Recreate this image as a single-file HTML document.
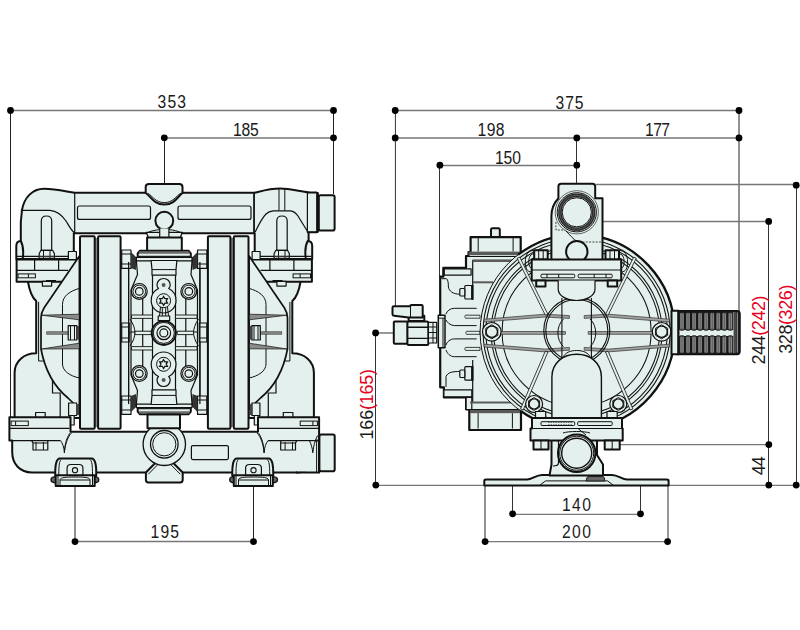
<!DOCTYPE html>
<html><head><meta charset="utf-8"><style>
html,body{margin:0;padding:0;background:#fff;width:800px;height:630px;overflow:hidden}
svg{display:block}
text{font-family:"Liberation Sans",sans-serif;font-size:18px;fill:#1a1a1a}
.r{fill:#e50020}
.o{fill:#e4f0ed;stroke:#111;stroke-width:2;stroke-linejoin:round}
.f{fill:#e4f0ed;stroke:#111;stroke-width:1.2;stroke-linejoin:round}
.l{fill:none;stroke:#111;stroke-width:1.2}
.t{fill:none;stroke:#111;stroke-width:1}
.d{fill:none;stroke:#777;stroke-width:1.3}
.dv{fill:none;stroke:#222;stroke-width:1}
.k{fill:#000}
</style></head><body>
<svg width="800" height="630" viewBox="0 0 800 630">
<!-- ================= DIMENSIONS ================= -->
<g id="dims">
<!-- left view -->
<path class="dv" d="M10.5,110.5V418 M333.5,110.5V194 M164.5,138V184 M75,486V541.5 M253.5,486V541.5" style="stroke:#222"/>
<path class="d" d="M10.5,110.5H333.5 M75,541.5H253.5"/>
<path class="d" d="M164,138H333.5" style="stroke-width:1.7"/>
<g class="k">
<circle cx="10.5" cy="110.5" r="3.4"/><circle cx="333.5" cy="110.5" r="3.4"/>
<circle cx="164.3" cy="137.8" r="3.4"/><circle cx="333.5" cy="137.8" r="3.4"/>
<circle cx="75" cy="541.6" r="3.4"/><circle cx="253.5" cy="541.6" r="3.4"/>
</g>
<!-- right view -->
<path class="dv" d="M395.4,110.5V306 M576.5,138V184 M439.5,165V277 M768.5,221.5V485 M796.5,185V485 M375.5,333V485 M512.5,486V514 M640.5,486V514 M668,486V541.5" style="stroke:#333"/>
<path class="dv" d="M739,110.5V311 M485,486V541.5" style="stroke:#777;stroke-width:1.6"/>
<path class="d" d="M395,110.5H739 M440,165.5H577 M596,184.5H796.5 M603,221.5H768.5 M612,444.7H768.5 M376,485.4H796.5 M512.5,514.3H640.5 M485,541.7H668"/>
<path class="d" d="M395,138H739 M376,333H394" style="stroke-width:1.7"/>
<g class="k">
<circle cx="395.2" cy="110.5" r="3.4"/><circle cx="739" cy="110.5" r="3.4"/>
<circle cx="395.2" cy="137.9" r="3.4"/><circle cx="576.8" cy="137.9" r="3.4"/><circle cx="739" cy="137.9" r="3.4"/>
<circle cx="439.9" cy="165.2" r="3.4"/><circle cx="576.8" cy="165.2" r="3.4"/>
<circle cx="796.2" cy="185.2" r="3.4"/><circle cx="768.7" cy="221.4" r="3.4"/>
<circle cx="768.8" cy="444.6" r="3.4"/><circle cx="768.8" cy="485.1" r="3.4"/><circle cx="796.2" cy="485.1" r="3.4"/>
<circle cx="375.6" cy="332.9" r="3.4"/><circle cx="375.8" cy="485.1" r="3.4"/>
<circle cx="512.6" cy="513.8" r="3.4"/><circle cx="640.5" cy="513.8" r="3.4"/>
<circle cx="485.1" cy="541.6" r="3.4"/><circle cx="667.6" cy="541.6" r="3.4"/>
</g>
</g>
<g id="texts">
<text transform="translate(157.50,107.80) scale(0.87,1)" textLength="32.74" lengthAdjust="spacing">353</text>
<text transform="translate(233.00,135.90) scale(0.87,1)" textLength="29.68" lengthAdjust="spacing">185</text>
<text transform="translate(150.50,537.80) scale(0.87,1)" textLength="32.80" lengthAdjust="spacing">195</text>
<text transform="translate(555.50,108.80) scale(0.87,1)" textLength="32.22" lengthAdjust="spacing">375</text>
<text transform="translate(477.60,135.90) scale(0.87,1)" textLength="30.93" lengthAdjust="spacing">198</text>
<text transform="translate(645.00,135.80) scale(0.87,1)" textLength="28.74" lengthAdjust="spacing">177</text>
<text transform="translate(495.00,163.80) scale(0.87,1)" textLength="29.84" lengthAdjust="spacing">150</text>
<text transform="translate(562.00,510.50) scale(0.87,1)" textLength="33.32" lengthAdjust="spacing">140</text>
<text transform="translate(562.00,538.30) scale(0.87,1)" textLength="33.29" lengthAdjust="spacing">200</text>
<text transform="translate(372.90,439.40) rotate(-90)" textLength="70.4" lengthAdjust="spacing">166<tspan class="r">(165)</tspan></text>
<text transform="translate(765.10,364.60) rotate(-90)" textLength="69.2" lengthAdjust="spacing">244<tspan class="r">(242)</tspan></text>
<text transform="translate(792.10,353.80) rotate(-90)" textLength="69.2" lengthAdjust="spacing">328<tspan class="r">(326)</tspan></text>
<text transform="translate(765.20,475.20) rotate(-90)" textLength="19.0" lengthAdjust="spacing">44</text>
</g>
<!-- ================= FRONT VIEW ================= -->
<g id="front">
<g id="FL1">
<!-- lower elbow + chamber body -->
<path class="o" d="M80,281 H27.8 C29.5,291 32.5,298 36.2,301 V353.3 C24,353.3 14.6,361 14.6,373 V418 H80 Z"/>
</g>
<use href="#FL1" transform="translate(328.5,0) scale(-1,1)"/>
<!-- left upper elbow + top manifold left half -->
<path class="o" d="M44.2,188.7 C56,188.7 66,191.5 74.7,192.8 H254.3 C262,191 270,188.6 280,188.6 C290,188.6 300,191.5 308.6,192.4 V259 H254.7 V233.2 H73.8 V259 H20.8 V222 L22,210 C24,198 32,188.7 44.2,188.7 Z"/>
<path class="l" d="M20.8,210.3 H50 C58,211 62,215 66,221 C69,226 71,230 74.5,233"/>
<!-- right upper elbow + top manifold right half -->

<path class="l" d="M255.2,232 C258,226 262,218 266,214 C268,212 270,211 273,210.8 H290.5 C293,211 296,213 298,216 C301,221 304,226 307.6,231.4"/>
<path class="t" d="M279,189 V210.5 M284.8,189 V210.5"/>
<path class="l" d="M254.3,192.4 V233"/>
<rect x="120" y="262" width="88.5" height="142" fill="#e4f0ed"/>
<g id="FL">
<path class="o" d="M20.8,241 C18,241 16.3,242.5 16.3,246 V259 H22.7 C23.5,253 23,245 20.8,241 Z"/>
<!-- flange -->
<path class="l" d="M17,256.4 H72"/>
<path class="o" d="M16.6,259.4 H76.5 V281.7 H16.6 Z"/>
<path class="l" d="M16.6,270.4H68 M34.6,259.4V270.4 M58.6,259.4V270.4"/>
<rect class="t" x="18" y="273.9" width="17.4" height="3.9"/>
<path class="t" d="M28.4,273.9V277.8 M46,280.5 H56"/>
<rect class="f" x="42.4" y="281.3" width="9.2" height="4.8"/>
<path class="l" d="M74.7,192.8 V233.2"/>
<!-- slot -->
<rect class="l" x="77.5" y="206" width="73" height="13.4" rx="2"/>
<!-- stud + nut -->
<path class="f" d="M41.3,250.3 V221 C41.3,217.5 43.5,216 46.5,216 C49.5,216 51.7,217.5 51.7,221 V250.3 Z"/>
<path class="f" d="M39.2,258.6 V253.5 L41,250.3 H52.6 L54.4,253.5 V258.6 Z"/>
<path class="t" d="M43.5,251V258.6 M50,251V258.6"/>
<path d="M39.2,256.5 H54.4" stroke="#333" stroke-width="1.6"/>
<!-- dome -->
<path class="f" d="M79.4,256 L44,308 Q41,313 41,318 V349 C44,365 52,385 68,398 L79.4,409 Z" style="stroke-width:1.7"/>
<path class="t" d="M79.4,288.4 C70,291 62.5,296 62.5,304.4 V364 C62.5,371 70,376 79.4,378"/>
<path d="M41.5,315.2 L79.4,314.2 V319.8 Z" fill="#8a8a8a" stroke="#222" stroke-width="0.8" stroke-linejoin="round"/>
<path d="M41.5,349 L79.4,343.2 V348.8 Z" fill="#8a8a8a" stroke="#222" stroke-width="0.8" stroke-linejoin="round"/>
<rect x="46.7" y="331.8" width="22" height="2.4" fill="#8a8a8a" stroke="#333" stroke-width="0.6"/>
<rect class="f" x="68.2" y="325.6" width="8.5" height="14.4"/>
<path class="t" d="M70.5,325.6 V340 M74.5,325.6 V340"/>
<rect x="76.2" y="326" width="3" height="13.6" fill="#444"/>
<path class="t" d="M38.6,302 V361 H43.6"/>
<path class="l" d="M52.5,380.5 V393 H60.2 V417"/>
<rect class="f" x="35.6" y="412.5" width="9.6" height="5.2"/>
<!-- bolt heads left of ring -->
<rect class="f" x="68.4" y="251.5" width="8" height="8"/>
<rect class="f" x="68.6" y="403" width="8" height="12.5"/>
<rect x="76" y="404" width="3" height="11" fill="#444"/>
<rect class="f" x="69.6" y="415.5" width="4.6" height="9.5"/>
<!-- diaphragm clamp rings -->
<rect x="94" y="238" width="5" height="189" fill="#888"/>
<rect class="o" x="80" y="236.3" width="14.7" height="192.5" rx="1"/>
<rect class="o" x="98.1" y="236.3" width="22.5" height="192.5" rx="1"/>
<!-- strip & nuts right of rings -->
<path class="l" d="M128.6,250 V414" />
<rect class="f" x="121.7" y="250" width="9.3" height="18.4"/>
<rect class="f" x="121.7" y="323" width="7.5" height="19"/>
<rect class="f" x="121.7" y="396" width="9.3" height="18.4"/>
<path class="t" d="M121.7,254H131 M121.7,264H131 M121.7,400H131 M121.7,410H131 M121.7,327H129 M121.7,338H129"/>
<path d="M131,252 L137,258 L136,270 L131,268 Z M131,412 L137,406 L136,394 L131,396 Z" fill="#333"/>
<!-- bottom manifold left half -->
<path class="o" d="M9.4,417.2 H70.5 V431.7 H164.3 V472.5 H32 C20,472.5 12.2,464 12.2,452 V440.6 H9.4 Z"/>
<path class="l" d="M9.4,428.3 H69.4 M12.2,440.6 H60.5"/>
<rect class="t" x="11.1" y="421.1" width="17.2" height="4.5"/>
<path class="t" d="M15.6,421.1 V425.6"/>
<path class="l" d="M60.5,440.6 C62.5,443 64,447 64.4,452.8 C65,445 67.5,437 71.7,432.6 M64.4,452.8 C64.6,446 66,439 69.8,433.2" style="stroke-width:1"/>
<path class="f" d="M31.7,440.6 L33,443 V450 H47.8 V443 L47.8,440.6 Z"/>
<path class="t" d="M36,442V450 M43.4,442V450 M33,443 H47.8"/>
<!-- foot -->
<path class="o" d="M55.3,476 C55,466 56,458.4 60,458.4 H91.5 C95.5,458.4 96.5,466 96.2,476 Z"/>
<path class="t" d="M58.8,475 C58.8,465 59.3,461 61.3,459.5 M92.5,475 C92.5,465 92,461 90,459.5"/>
<path class="f" d="M67.1,476 V468 C67.1,465.5 69,464.5 71,464.5 H79 C81,464.5 82.9,465.5 82.9,468 V476 Z"/>
<circle class="t" cx="75" cy="470.2" r="2.6" style="stroke-width:1.1"/>
<path d="M56.2,476.7 C53,476.7 51,478 51,479.8 C51,481.6 53,482.9 56.2,482.9 Z M94,476.7 C97.2,476.7 98.8,478 98.8,479.8 C98.8,481.6 97.2,482.9 94,482.9 Z" fill="#666" stroke="#111" stroke-width="1.3"/>
<path class="o" d="M55.7,475.3 H94.7 V486 H55.7 Z"/>
<path class="t" d="M60,486 V479.5 C61,477.5 65,477 75,477 C85,477 89,477.5 90,479.5 V486 M60,480 H90 M58,475.5 V485.5 M92.5,475.5 V485.5"/>
</g>
<use href="#FL" transform="translate(328.5,0) scale(-1,1)"/>
<!-- outlet ports right -->
<rect class="f" x="307.4" y="192.5" width="10.6" height="39.8"/>
<path d="M307.4,192.5 H317 M307.4,232.3 H317" stroke="#111" stroke-width="2"/>
<path d="M317.4,192.8 V232" stroke="#111" stroke-width="2.6"/>
<rect class="o" x="318.8" y="195.2" width="15.8" height="35.4" rx="1.8"/>
<rect x="297" y="441.8" width="21.9" height="30" fill="#e4f0ed"/>
<path d="M319,440 V472.5 H296" fill="none" stroke="#111" stroke-width="2"/>
<path class="t" d="M316.6,441.5 V472"/>
<path class="l" d="M309.4,440.6 C311,444 312.5,448 312.8,452.8 C313.5,446 315,440 317.6,435.5" style="stroke-width:1"/>
<rect class="o" x="319.4" y="434.6" width="15.3" height="36.6" rx="1.8"/>
<!-- top bump & ball -->
<path class="o" d="M145.7,193 V187 C145.7,185 147,183.9 149,183.9 H179.3 C181.3,183.9 182.5,185 182.5,187 V193 C177.5,196.5 175,204.5 164.3,204.5 C153.6,204.5 151,196.5 145.7,193 Z"/>
<path class="t" d="M147.8,193.2 C152.5,196 155.5,202.6 164.3,202.6 C173.1,202.6 176.1,196 180.8,193.2"/>
<circle class="o" cx="164.3" cy="220.7" r="8.9"/>
<path class="f" d="M146.2,232.3 L148.5,237.8 H180.1 L182.4,232.3 Z" style="stroke-width:1.3"/>
<path class="t" d="M147,232.8 C151,231 155,230 159.7,229.6 M181.6,232.8 C177.6,231 173.6,230 168.9,229.6"/>
<path class="f" d="M159.7,228.5 V237.5 H168.9 V228.5"/>
<!-- center section -->
<path class="l" d="M128.6,262 V404 M199.9,262 V404"/>
<rect class="o" x="147.1" y="237.5" width="34.7" height="13.5"/>
<g id="CT">
<path class="o" d="M137.7,257.4 V253.5 L140,250.7 H188.5 L190.8,253.5 V257.4 Z"/>
<path d="M139,252.6 H189.5" stroke="#6a6a6a" stroke-width="2.2"/>
<path d="M137.5,256.6 H191" stroke="#222" stroke-width="1.6"/>
<path class="f" d="M136.4,257.4 H192 V261 H136.4 Z"/>
<path class="f" d="M136.4,261 H192 L191,274.5 L197.5,290 V333 H131 V290 L137.5,274.5 Z"/>
<path class="f" d="M151.1,260.5 H176.9 L176,269.6 V275.2 H152 V269.6 Z"/>
<path class="t" d="M152,269.6 H176"/>
<path class="l" d="M152.5,275.2 V333 M175.5,275.2 V333 M142.7,290 V333 M185.8,290 V333"/>
<path class="f" d="M131.5,315 H152.5 V318.4 H131.5 Z M175.5,315 H197 V318.4 H175.5 Z" style="stroke-width:0.9"/>
<path class="t" d="M130,319 C133.5,324 135,329 135,333"/>
<path class="t" d="M198.5,319 C195,324 193.5,329 193.5,333"/>
<circle class="f" cx="139.3" cy="291.4" r="7.9"/><circle class="t" cx="139.3" cy="291.4" r="6.3"/><circle class="l" cx="139.3" cy="291.4" r="3.8"/>
<circle class="f" cx="188.8" cy="291.4" r="7.9"/><circle class="t" cx="188.8" cy="291.4" r="6.3"/><circle class="l" cx="188.8" cy="291.4" r="3.8"/>
<path class="f" d="M158.5,288.5 C157.5,287.5 157,286 157,285 C157,281 160,278.5 163.6,278.5 C167.2,278.5 170.2,281 170.2,285 C170.2,286 169.7,287.5 168.7,288.5 C173,290.5 176,295 176,300.7 C176,307.5 170.4,313 163.6,313 C156.8,313 151.2,307.5 151.2,300.7 C151.2,295 154.2,290.5 158.5,288.5 Z"/>
<circle cx="163.6" cy="285" r="2" fill="#555"/>
<circle class="t" cx="163.6" cy="300.7" r="7"/>
<path class="l" d="M163.6,296.5 l1.3,2.2 2.6,0 -1.3,2.2 1.3,2.2 -2.6,0 -1.3,2.2 -1.3,-2.2 -2.6,0 1.3,-2.2 -1.3,-2.2 2.6,0 Z"/>
</g>
<use href="#CT" transform="translate(0,665) scale(1,-1)"/>
<path class="f" d="M135,331.2 H151.3 V334.6 H135 Z M177.2,331.2 H193.5 V334.6 H177.2 Z" style="stroke-width:0.9"/>
<path class="f" d="M158.2,316 H169.7 V320.7 H158.2 Z"/>
<path class="l" d="M160.5,307 L159.5,316 M167.5,307 L168.5,316 M162.3,308 V316 M165.7,308 V316" style="stroke-width:1"/>
<circle class="o" cx="163.8" cy="332.9" r="12"/>
<circle class="t" cx="163.8" cy="332.9" r="10.5"/>
<circle class="l" cx="163.8" cy="332.9" r="6.8"/>
<circle class="l" cx="163.8" cy="332.9" r="4"/>
<!-- center inlet boss -->
<path class="o" d="M145.9,472.5 L155.3,463 H173.3 L182.7,472.5 V479.8 Q182.7,482.4 180.2,482.4 H148.4 Q145.9,482.4 145.9,479.8 Z"/>
<path class="t" d="M148.3,474.2 L157.4,465 M180.3,474.2 L171.2,465"/>
<circle class="f" cx="164.3" cy="444.3" r="21.2" style="stroke-width:1.3"/>
<circle class="l" cx="164.3" cy="444.3" r="13.8" style="stroke-width:1.3"/>
<circle class="t" cx="164.3" cy="444.3" r="11.6"/>
<rect class="o" x="147.5" y="414.4" width="32.5" height="13.8"/>
<rect class="l" x="191.4" y="445.6" width="37" height="14" rx="1.5"/>
</g>
<!-- ================= SIDE VIEW ================= -->
<g id="side">
<!-- base plate -->
<path class="o" d="M484.3,485.5 V481 C484.3,480 485,479.6 486,479.6 H527 C532,479.6 536,475 542,475 H612 C618,475 622,479.6 627,479.6 H666.8 C667.8,479.6 668.6,480 668.6,481 V485.5 Z"/>
<path class="t" d="M540,485 L545.6,480.9 H607.5 L613,485"/>
<path d="M586,481 L587,477.5 C588,476.5 590,476.3 592,476.3 H601 C603,476.3 604,477 604.5,478 V481 Z" fill="#666" stroke="#1a1a1a" stroke-width="1"/>
<!-- pedestal -->
<path class="o" d="M551.5,439.7 V464.5 L549.5,475.5 H603 V464.5 L597,455 V439.7 Z"/>
<path class="l" d="M551.5,440 H556.5 C557.5,440 558.5,441 558.5,442 V463 C558.5,465 556,466 553,466"/>
<!-- air valve body (behind big circle) -->
<rect class="o" x="491" y="228.2" width="8.8" height="10" rx="1.5"/>
<path class="o" d="M470.6,237.1 H520.7 V252 H521 V430 H469.3 V409.5 H466.1 V397.4 H443.9 V387.3 H440.2 V276.7 H443.3 V267.9 H466 V256 H468.5 V252 H470.6 Z" style="stroke-width:2.2"/>
<path class="t" d="M478.2,237.6 V251.5 M513.1,237.6 V251.5"/>
<rect x="468.5" y="251.6" width="52" height="3.6" fill="#5a5a5a"/>
<path class="l" d="M466,256.5 H520.5 M472.7,260 V300 M472.7,360 V402"/>
<rect x="472.5" y="259.4" width="48" height="2.6" fill="#5a5a5a"/>
<rect x="473" y="281.3" width="20" height="2" fill="#5a5a5a"/>
<rect class="f" x="444.3" y="268.9" width="26.8" height="6.2"/>
<path class="t" d="M441.5,278.7 H446.5 C448,279.5 448.4,283 448.4,287 C449,291 453,294.2 459.8,294.2"/>
<path class="t" d="M476.7,308.3 H454.4 C450,308.3 447,311 446,314 M476.7,325.6 H454.4 C450,325.6 447,322 446,320 M476.7,338.9 H454.4 C450,338.9 447,342 446,345 M476.7,356.7 H454.4 C450,356.7 447,353 446,350"/>
<path class="f" d="M465.6,315.2 H480 V318.2 H465.6 C464.6,318.2 464.6,315.2 465.6,315.2 Z M466.6,331.3 H480 V334.3 H466.6 C465.6,334.3 465.6,331.3 466.6,331.3 Z M465.6,347.4 H480 V350.4 H465.6 C464.6,350.4 464.6,347.4 465.6,347.4 Z" style="stroke-width:0.8"/>
<rect class="f" x="464.8" y="285.5" width="7.5" height="13.5" rx="1"/>
<path class="l" d="M472.3,285 V299.5" style="stroke-width:2.4"/>
<rect class="f" x="459.8" y="288.5" width="5" height="7.5" rx="1"/>
<rect class="f" x="464.8" y="366.7" width="7.5" height="13.5" rx="1"/>
<path class="l" d="M472.3,366.2 V380.7" style="stroke-width:2.4"/>
<rect class="f" x="459.8" y="370" width="5" height="7.5" rx="1"/>
<path class="t" d="M446,387 V376.5 C448,372 453,371.5 459.8,371.5"/>
<rect class="f" x="443.9" y="389.8" width="27.9" height="7"/>
<path class="f" d="M466.1,397.4 H471.8 V409.5 H466.1 Z"/>
<rect x="470" y="401.5" width="52" height="2" fill="#5a5a5a"/>
<path class="l" d="M469.3,409.5 H520"/>
<rect x="470" y="410" width="50" height="3.2" fill="#5a5a5a"/>
<path class="t" d="M478.1,413.2 V428.5 M512.4,413.2 V428.5"/>
<!-- big circle -->
<circle cx="577.4" cy="331.9" r="97.3" fill="#e4f0ed" stroke="#111" stroke-width="1"/>
<path d="M518.17,254.71 A97.3,97.3 0 1,1 520.76,411.01" fill="none" stroke="#111" stroke-width="2.3"/>
<g class="t" style="stroke-width:1.05"><circle cx="576.6" cy="331.9" r="93.5"/><circle cx="576.6" cy="331.9" r="90.7"/><circle cx="576.6" cy="331.9" r="85.5"/><circle cx="576.6" cy="331.9" r="83"/><circle cx="576.6" cy="331.9" r="74.5"/></g>
<!-- ribs & spokes -->
<g fill="#a0a0a0" stroke="#333" stroke-width="0.7">
<path d="M484.1,319.2 L545,314.2 L569.4,315.6 V318.4 L545,317 L484.1,322 Z"/>
<path d="M669.5,319.2 L608.6,314.2 L584.2,315.6 V318.4 L608.6,317 L669.5,322 Z"/>
<path d="M484.1,344.2 L545,349.1 L569.4,347.4 V350.2 L545,351.9 L484.1,347 Z"/>
<path d="M669.5,344.2 L608.6,349.1 L584.2,347.4 V350.2 L608.6,351.9 L669.5,347 Z"/>
<path d="M500,331.5 H565.4 V334.3 H500 Z"/>
<path d="M588.2,331.5 H653 V334.3 H588.2 Z"/>
</g>
<g class="f" style="stroke-width:0.8">
<path d="M517.2,258.2 L519.8,257.2 L548,314.6 L545.2,315 Z"/>
<path d="M636.2,258.2 L633.6,257.2 L605.4,314.6 L608.2,315 Z"/>
<path d="M545.2,351.4 L548,351.8 L523.2,410 L520.5,409 Z"/>
<path d="M608.2,351.4 L605.4,351.8 L630.2,410 L632.9,409 Z"/>
</g>
<!-- center ring -->
<circle class="t" cx="576.8" cy="330.5" r="33" style="stroke-width:1.1"/>
<circle class="t" cx="576.8" cy="330.5" r="31" style="stroke-width:1.1"/>
<path class="t" d="M563.5,319 C556,326 556,340 563.5,346.7 M590.1,319 C597.6,326 597.6,340 590.1,346.7"/>
<path class="t" d="M561.9,298 V360 M591.4,298 V360" style="stroke-width:1.1"/>
<!-- bolts on circle -->
<g>
<circle class="f" cx="491.8" cy="331.8" r="9.3"/><path class="t" d="M491.8,324.8 l6,3.5 v7 l-6,3.5 l-6,-3.5 v-7 Z"/><circle class="l" cx="491.8" cy="331.8" r="5.6"/>
<circle class="f" cx="661.6" cy="331.8" r="9.3"/><path class="t" d="M661.6,324.8 l6,3.5 v7 l-6,3.5 l-6,-3.5 v-7 Z"/><circle class="l" cx="661.6" cy="331.8" r="5.6"/>
<circle class="f" cx="534.1" cy="404" r="8.5"/><path class="t" d="M534.1,397.6 l5.5,3.2 v6.4 l-5.5,3.2 l-5.5,-3.2 v-6.4 Z"/><circle class="l" cx="534.1" cy="404" r="5"/>
<circle class="f" cx="618.3" cy="404" r="8.5"/><path class="t" d="M618.3,397.6 l5.5,3.2 v6.4 l-5.5,3.2 l-5.5,-3.2 v-6.4 Z"/><circle class="l" cx="618.3" cy="404" r="5"/>
</g>
<!-- lower inlet tube -->
<path class="t" d="M561.9,359 C565,352 571,350.5 576.7,350.5 C582.5,350.5 588.5,352 591.4,359"/>
<path class="f" d="M551.9,418 V377 C551.9,363 563,354.3 576.7,354.3 C590.4,354.3 601.4,363 601.4,377 V418" style="stroke-width:1.4"/>
<rect class="f" x="535.5" y="411.5" width="10.2" height="6.5"/>
<rect class="f" x="607" y="411.5" width="10.2" height="6.5"/>
<!-- lower clamp bar -->
<path class="o" d="M532,418 H622 V428.5 H622.7 V440.5 H530.5 V428.5 H532 Z"/>
<path class="t" d="M532,428.5 H622"/>
<rect class="t" x="541" y="421.7" width="33.7" height="3.8" rx="1"/>
<rect class="t" x="577.7" y="421.7" width="34.5" height="3.8" rx="1"/>
<path d="M548,422.5 H572 M548,424.7 H572" stroke="#555" stroke-width="0.8" stroke-dasharray="1.5 1"/>
<rect class="o" x="533.5" y="440.5" width="15" height="9" />
<rect class="o" x="604.7" y="440.5" width="15" height="9" />
<path class="t" d="M541,440.5 V449.5 M612.2,440.5 V449.5"/>
<!-- inlet circle -->
<circle class="o" cx="576.7" cy="453.2" r="18.7"/>
<circle class="t" cx="576.7" cy="453.2" r="17"/>
<circle class="l" cx="576.7" cy="453.2" r="15" style="stroke-width:1.4"/>
<path class="t" d="M563,433 C568,431 585,431 590,433 M578,428.5 L586,435"/>
<!-- top outlet block -->
<path class="o" d="M551.4,262 V216 C551.4,208 555,202 558.4,198.3 V186.5 C558.4,184.8 559.5,183.7 561.2,183.7 H592.4 C594.1,183.7 595.2,184.8 595.2,186.5 V198.3 H602.5 V262 Z"/>
<circle cx="576.8" cy="212.3" r="21.6" fill="none" stroke="#444" stroke-width="0.8"/>
<circle class="f" cx="576.8" cy="212.3" r="19.6" style="stroke-width:1"/>
<circle cx="576.8" cy="212.3" r="16.9" fill="none" stroke="#2a2a2a" stroke-width="3.6"/>
<circle cx="576.8" cy="212.3" r="16.9" fill="none" stroke="#777" stroke-width="0.6"/>
<circle class="t" cx="576.8" cy="212.3" r="14.6"/>
<path d="M555.9,222 V230 H565.4 M601,242 H578" stroke="#333" stroke-width="0.9" stroke-dasharray="2 1.3" fill="none"/>
<path class="t" d="M566,231 C570,235 573,239 577,241.5"/>
<circle class="o" cx="576.8" cy="251.7" r="10.7"/>
<!-- top clamp bar -->
<path class="t" d="M531.7,272 C527,272 525.3,268 525.3,262 C525.3,255 528,250.3 534.2,250.3 M531.7,268 C529.5,268 528.8,265.5 528.8,262 C528.8,257 530.5,253.8 534.2,253.8 M621.2,272 C625.9,272 627.6,268 627.6,262 C627.6,255 624.9,250.3 618.7,250.3 M621.2,268 C623.4,268 624.1,265.5 624.1,262 C624.1,257 622.4,253.8 618.7,253.8"/>
<rect class="o" x="534.2" y="250.2" width="13.5" height="9.3"/>
<rect class="o" x="605.5" y="250.2" width="13.5" height="9.3"/>
<path class="t" d="M538.7,250.2 V259.5 M543.2,250.2 V259.5 M610,250.2 V259.5 M614.5,250.2 V259.5"/>
<rect class="o" x="531.7" y="259.5" width="89.5" height="21"/>
<path class="t" d="M531.7,270 H621.2"/>
<rect class="t" x="541" y="274.2" width="33.7" height="3.6" rx="1"/>
<rect class="t" x="578.2" y="274.2" width="34" height="3.6" rx="1"/>
<path class="t" d="M547,274.2 V277.8 M558.7,274.2 V277.8 M594.2,274.2 V277.8 M606,274.2 V277.8"/>
<rect class="o" x="536.2" y="280.5" width="9.3" height="6"/>
<rect class="o" x="607.7" y="280.5" width="9.5" height="6"/>
<path class="f" d="M558.2,280.5 V289 C558.2,296 567,300.5 576.6,300.5 C586,300.5 595,296 595,289 V280.5"/>
<!-- muffler -->
<rect class="o" x="671.5" y="310.7" width="7" height="43.5"/>
<path d="M678.2,310.7 H737 C739,310.7 740,312 740,314 V351 C740,353 739,354.5 737,354.5 H678.2 Z" fill="#1e1e1e" stroke="#111" stroke-width="1.5"/>
<rect x="679.5" y="330" width="54" height="6" fill="#e4f0ed"/>
<rect x="679.40" y="312.2" width="5.1" height="18.0" rx="1.6" fill="#5e5e5e" stroke="#111" stroke-width="0.9"/>
<path d="M681.00,313.7 V328.7 M683.10,313.7 V328.7" stroke="#a5a5a5" stroke-width="0.6"/>
<rect x="679.40" y="335.8" width="5.1" height="17.8" rx="1.6" fill="#5e5e5e" stroke="#111" stroke-width="0.9"/>
<path d="M681.00,337.3 V352.1 M683.10,337.3 V352.1" stroke="#a5a5a5" stroke-width="0.6"/>
<rect x="685.45" y="312.2" width="5.1" height="18.0" rx="1.6" fill="#5e5e5e" stroke="#111" stroke-width="0.9"/>
<path d="M687.05,313.7 V328.7 M689.15,313.7 V328.7" stroke="#a5a5a5" stroke-width="0.6"/>
<rect x="685.45" y="335.8" width="5.1" height="17.8" rx="1.6" fill="#5e5e5e" stroke="#111" stroke-width="0.9"/>
<path d="M687.05,337.3 V352.1 M689.15,337.3 V352.1" stroke="#a5a5a5" stroke-width="0.6"/>
<rect x="691.50" y="312.2" width="5.1" height="18.0" rx="1.6" fill="#5e5e5e" stroke="#111" stroke-width="0.9"/>
<path d="M693.10,313.7 V328.7 M695.20,313.7 V328.7" stroke="#a5a5a5" stroke-width="0.6"/>
<rect x="691.50" y="335.8" width="5.1" height="17.8" rx="1.6" fill="#5e5e5e" stroke="#111" stroke-width="0.9"/>
<path d="M693.10,337.3 V352.1 M695.20,337.3 V352.1" stroke="#a5a5a5" stroke-width="0.6"/>
<rect x="697.55" y="312.2" width="5.1" height="18.0" rx="1.6" fill="#5e5e5e" stroke="#111" stroke-width="0.9"/>
<path d="M699.15,313.7 V328.7 M701.25,313.7 V328.7" stroke="#a5a5a5" stroke-width="0.6"/>
<rect x="697.55" y="335.8" width="5.1" height="17.8" rx="1.6" fill="#5e5e5e" stroke="#111" stroke-width="0.9"/>
<path d="M699.15,337.3 V352.1 M701.25,337.3 V352.1" stroke="#a5a5a5" stroke-width="0.6"/>
<rect x="703.60" y="312.2" width="5.1" height="18.0" rx="1.6" fill="#5e5e5e" stroke="#111" stroke-width="0.9"/>
<path d="M705.20,313.7 V328.7 M707.30,313.7 V328.7" stroke="#a5a5a5" stroke-width="0.6"/>
<rect x="703.60" y="335.8" width="5.1" height="17.8" rx="1.6" fill="#5e5e5e" stroke="#111" stroke-width="0.9"/>
<path d="M705.20,337.3 V352.1 M707.30,337.3 V352.1" stroke="#a5a5a5" stroke-width="0.6"/>
<rect x="709.65" y="312.2" width="5.1" height="18.0" rx="1.6" fill="#5e5e5e" stroke="#111" stroke-width="0.9"/>
<path d="M711.25,313.7 V328.7 M713.35,313.7 V328.7" stroke="#a5a5a5" stroke-width="0.6"/>
<rect x="709.65" y="335.8" width="5.1" height="17.8" rx="1.6" fill="#5e5e5e" stroke="#111" stroke-width="0.9"/>
<path d="M711.25,337.3 V352.1 M713.35,337.3 V352.1" stroke="#a5a5a5" stroke-width="0.6"/>
<rect x="715.70" y="312.2" width="5.1" height="18.0" rx="1.6" fill="#5e5e5e" stroke="#111" stroke-width="0.9"/>
<path d="M717.30,313.7 V328.7 M719.40,313.7 V328.7" stroke="#a5a5a5" stroke-width="0.6"/>
<rect x="715.70" y="335.8" width="5.1" height="17.8" rx="1.6" fill="#5e5e5e" stroke="#111" stroke-width="0.9"/>
<path d="M717.30,337.3 V352.1 M719.40,337.3 V352.1" stroke="#a5a5a5" stroke-width="0.6"/>
<rect x="721.75" y="312.2" width="5.1" height="18.0" rx="1.6" fill="#5e5e5e" stroke="#111" stroke-width="0.9"/>
<path d="M723.35,313.7 V328.7 M725.45,313.7 V328.7" stroke="#a5a5a5" stroke-width="0.6"/>
<rect x="721.75" y="335.8" width="5.1" height="17.8" rx="1.6" fill="#5e5e5e" stroke="#111" stroke-width="0.9"/>
<path d="M723.35,337.3 V352.1 M725.45,337.3 V352.1" stroke="#a5a5a5" stroke-width="0.6"/>
<rect x="727.80" y="312.2" width="5.1" height="18.0" rx="1.6" fill="#5e5e5e" stroke="#111" stroke-width="0.9"/>
<path d="M729.40,313.7 V328.7 M731.50,313.7 V328.7" stroke="#a5a5a5" stroke-width="0.6"/>
<rect x="727.80" y="335.8" width="5.1" height="17.8" rx="1.6" fill="#5e5e5e" stroke="#111" stroke-width="0.9"/>
<path d="M729.40,337.3 V352.1 M731.50,337.3 V352.1" stroke="#a5a5a5" stroke-width="0.6"/>
<path d="M733.8,312 V353 M737.3,312.5 V352.5" stroke="#b5b5b5" stroke-width="0.9"/>
<path d="M735.6,312 V353" stroke="#555" stroke-width="0.9"/>
<!-- ball valve -->
<path class="o" d="M408.6,321.1 V315.7 H424.3 V321.1 Z"/>
<path class="o" d="M392.5,307.5 C392.5,306.8 393,306.3 394,306.3 H410.3 V305.8 C410.3,305.3 410.8,305 411.5,305 H421.5 C422.2,305 422.7,305.5 422.7,306.2 V317.4 H408.6 L394,315.7 C393,315.7 392.5,315.2 392.5,314.3 Z"/>
<path class="t" d="M410.5,306.3 V317"/>
<rect class="o" x="393.8" y="321.5" width="14" height="22.3" rx="1"/>
<rect class="o" x="407.4" y="321.5" width="21" height="23.5" rx="1.5"/>
<path class="l" d="M407.8,327.3 H428 M407.8,338.4 H428" style="stroke-width:1.4"/>
<rect class="f" x="428.4" y="322.3" width="8.3" height="20.7"/>
<path class="t" d="M428.4,327 H436.7 M428.4,332.5 H436.7 M428.4,338 H436.7 M433,322.3 V343"/>
<path class="f" d="M438.3,315.3 H445 V347.8 H438.3 Z" style="stroke-width:1.5"/>
<path class="t" d="M438.5,318.2 H445 M443,318.5 V347.5"/>
</g>
</svg>
</body></html>
